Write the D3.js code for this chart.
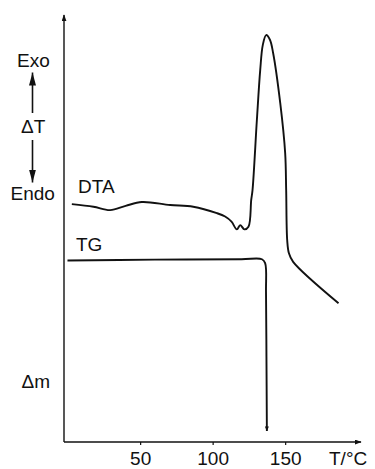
<!DOCTYPE html>
<html><head><meta charset="utf-8">
<script src="https://cdn.jsdelivr.net/npm/d3@7/dist/d3.min.js"></script>
<style>body{margin:0;background:#fff}svg{display:block}text{font-family:"Liberation Sans",Arial,sans-serif;fill:#111}</style>
</head><body>
<script>
// Temperature (°C) and DTA signal (arbitrary units)
const dtaT = [2.9, 17.8, 29.3, 40, 51.2, 70.7, 86.6, 102.9, 108.6, 113, 116.7, 119, 121.9, 124.7, 126.6, 127.5, 130.5, 132.8, 134.6, 136.9, 139.5, 141.7, 146.6, 150, 150.7, 151.4, 152.6, 155.5, 186.8];
const dtaV = [55.7, 55.1, 54.3, 55.3, 56.2, 55.5, 55.1, 53.6, 52.8, 51.6, 49.8, 50.8, 49.8, 50.4, 56.7, 59.0, 75.4, 87.1, 93.0, 95.3, 94.2, 91.1, 79.4, 67.7, 59.0, 47.3, 44.2, 42.2, 32.5];
// TG signal (arbitrary units)
const tgT = [-0.1, 60, 120, 134, 136.2, 136.8, 137.1, 137.4];
const tgV = [42.5, 42.7, 42.8, 42.8, 41.9, 35, 20, 2.6];
const xTicks = [50, 100, 150];

const W = 375, H = 469;
const svg = d3.select("body").append("svg").attr("width", W).attr("height", H);
const x = d3.scaleLinear().domain([-2.5, 202.3]).range([64, 361]);
const y = d3.scaleLinear().domain([0, 100]).range([442, 15]);

const defs = svg.append("defs");
defs.append("marker").attr("id","ah").attr("viewBox","0 0 10 10").attr("refX",9).attr("refY",5)
  .attr("markerWidth",7).attr("markerHeight",5).attr("markerUnits","userSpaceOnUse")
  .attr("preserveAspectRatio","none").attr("orient","auto")
  .append("path").attr("d","M0,0L10,5L0,10Z").attr("fill","#111");
defs.append("marker").attr("id","sm").attr("viewBox","0 0 10 10").attr("refX",9).attr("refY",5)
  .attr("markerWidth",5).attr("markerHeight",4).attr("markerUnits","userSpaceOnUse")
  .attr("preserveAspectRatio","none").attr("orient","auto")
  .append("path").attr("d","M0,0L10,5L0,10Z").attr("fill","#111");
defs.append("marker").attr("id","big").attr("viewBox","0 0 10 10").attr("refX",10).attr("refY",5)
  .attr("markerWidth",13).attr("markerHeight",7).attr("markerUnits","userSpaceOnUse")
  .attr("preserveAspectRatio","none").attr("orient","auto")
  .append("path").attr("d","M0,0L10,5L0,10Z").attr("fill","#111");

// axes
svg.append("line").attr("x1", x(-2.5)).attr("x2", x(-2.5)).attr("y1", y(0)).attr("y2", y(100))
  .attr("stroke","#111").attr("stroke-width",1.4).attr("marker-end","url(#ah)");
svg.append("line").attr("x1", x(-2.5)).attr("x2", x(202.3)).attr("y1", y(0)).attr("y2", y(0))
  .attr("stroke","#111").attr("stroke-width",1.4).attr("marker-end","url(#ah)");
const ax = svg.append("g").attr("transform", `translate(0,${y(0)})`)
  .call(d3.axisBottom(x).tickValues(xTicks).tickSize(3).tickPadding(6.5));
ax.select(".domain").remove();
ax.selectAll("line").attr("stroke","#111").attr("stroke-width",1.2);
ax.selectAll("text").attr("font-size",19).attr("fill","#111").style("font-family","Liberation Sans, Arial, sans-serif");
svg.append("text").attr("x",329).attr("y",465).attr("font-size",19).text("T/°C");

// curves
const dta = dtaT.map((t,i)=>[t, dtaV[i]]);
const tg = tgT.map((t,i)=>[t, tgV[i]]);
const line = d3.line().x(d=>x(d[0])).y(d=>y(d[1])).curve(d3.curveCatmullRom.alpha(0.5));
svg.append("path").attr("d", line(dta)).attr("fill","none").attr("stroke","#111").attr("stroke-width",1.9);
svg.append("path").attr("d", line(tg)).attr("fill","none").attr("stroke","#111").attr("stroke-width",1.9).attr("marker-end","url(#sm)");

// labels
const lab = (tx, px, py) => svg.append("text").attr("x",px).attr("y",py).attr("font-size",19).text(tx);
lab("Exo", 17, 66.5);
lab("ΔT", 21, 132.5);
lab("Endo", 10.5, 200);
lab("DTA", 78, 193.3);
lab("TG", 76, 250.7);
lab("Δm", 21.5, 388);
// ΔT arrows
svg.append("line").attr("x1",32.5).attr("x2",32.5).attr("y1",113).attr("y2",72.5)
  .attr("stroke","#111").attr("stroke-width",1.6).attr("marker-end","url(#big)");
svg.append("line").attr("x1",32.5).attr("x2",32.5).attr("y1",140).attr("y2",182.5)
  .attr("stroke","#111").attr("stroke-width",1.6).attr("marker-end","url(#big)");
</script>
</body></html>
